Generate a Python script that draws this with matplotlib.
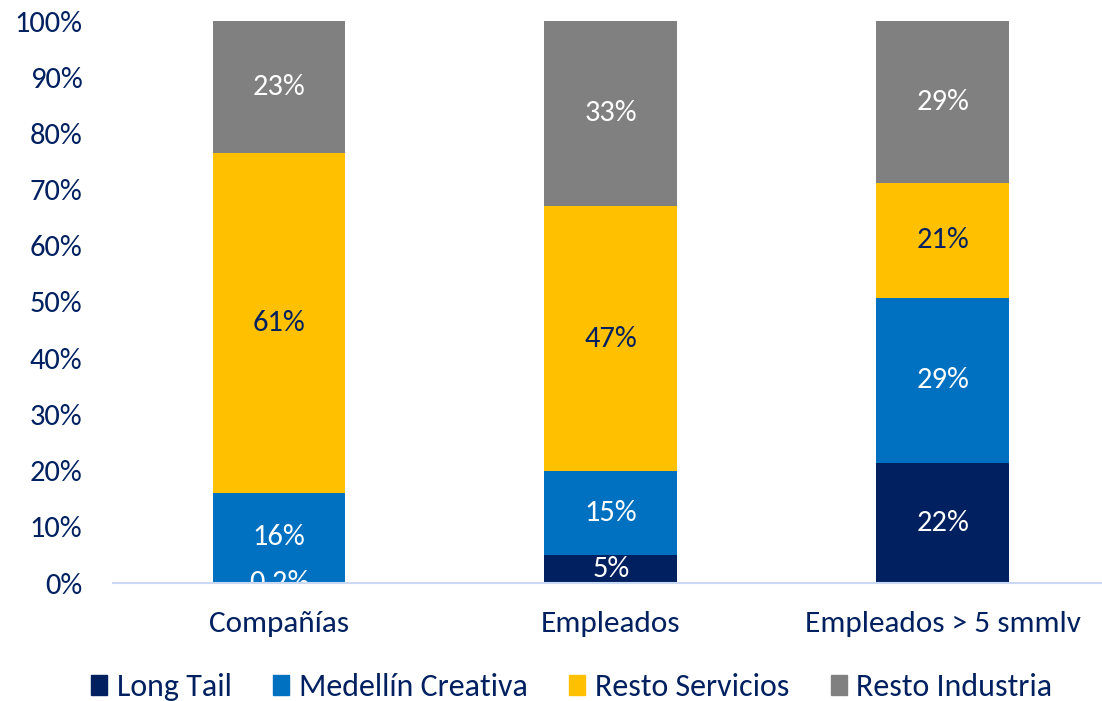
import matplotlib
matplotlib.use("Agg")
import matplotlib.pyplot as plt
from matplotlib.patches import Patch
import numpy as np

plt.rcParams['font.family'] = ['Carlito', 'Lato', 'DejaVu Sans']

categories = ["Compañías", "Empleados", "Empleados > 5 smmlv"]
series_names = ["Long Tail", "Medellín Creativa", "Resto Servicios", "Resto Industria"]
long_tail = [0.2, 5.0, 21.4]
medellin_creativa = [15.8, 14.9, 29.3]
resto_servicios = [60.5, 47.2, 20.5]
resto_industria = [23.5, 32.9, 28.8]
labels_long_tail = ["0,2%", "5%", "22%"]
labels_medellin = ["16%", "15%", "29%"]
labels_servicios = ["61%", "47%", "21%"]
labels_industria = ["23%", "33%", "29%"]
yticks = [0, 10, 20, 30, 40, 50, 60, 70, 80, 90, 100]
ytick_labels = [f"{v}%" for v in yticks]

colors = ["#002060", "#0070C0", "#FFC000", "#808080"]
label_colors = ["white", "white", "#002060", "white"]
navy = "#002060"

W, H = 1102, 701
fig = plt.figure(figsize=(W / 100, H / 100), dpi=100)
ax = fig.add_axes([113 / W, (H - 583) / H, (1102 - 113) / W, (583 - 21) / H])

x = np.arange(len(categories))
data = [long_tail, medellin_creativa, resto_servicios, resto_industria]
labels = [labels_long_tail, labels_medellin, labels_servicios, labels_industria]
bottom = np.zeros(len(categories))
for vals, lab, col, lc, name in zip(data, labels, colors, label_colors, series_names):
    vals = np.array(vals)
    ax.bar(x, vals, 0.4, bottom=bottom, color=col, label=name, zorder=2)
    for xi, b, v, t in zip(x, bottom, vals, lab):
        ax.text(xi, b + v / 2, t, ha="center", va="center", color=lc,
                fontsize=22, zorder=3, clip_on=False)
    bottom = bottom + vals

ax.set_xlim(-0.5, 2.48)
ax.set_ylim(0, 100)
ax.set_yticks(yticks)
ax.set_yticklabels(ytick_labels, color=navy, fontsize=22)
ax.set_xticks(x)
ax.set_xticklabels(categories, color=navy, fontsize=22.5)
ax.tick_params(axis="both", length=0)
ax.tick_params(axis="y", pad=22)
ax.tick_params(axis="x", pad=20)
for s in ["top", "right", "left"]:
    ax.spines[s].set_visible(False)
ax.spines["bottom"].set_color("#C9D9F5")
ax.spines["bottom"].set_linewidth(1.5)
ax.spines["bottom"].set_zorder(4)

handles = [Patch(color=c, label=n) for c, n in zip(colors, series_names)]
leg = fig.legend(handles=handles, loc="center", bbox_to_anchor=(572 / W, 1 - 687 / H),
                 ncol=4, frameon=False, fontsize=23, handlelength=0.5, handleheight=0.6,
                 handletextpad=0.3, columnspacing=1.3)
for t in leg.get_texts():
    t.set_color(navy)

fig.savefig("out.png", dpi=100)
